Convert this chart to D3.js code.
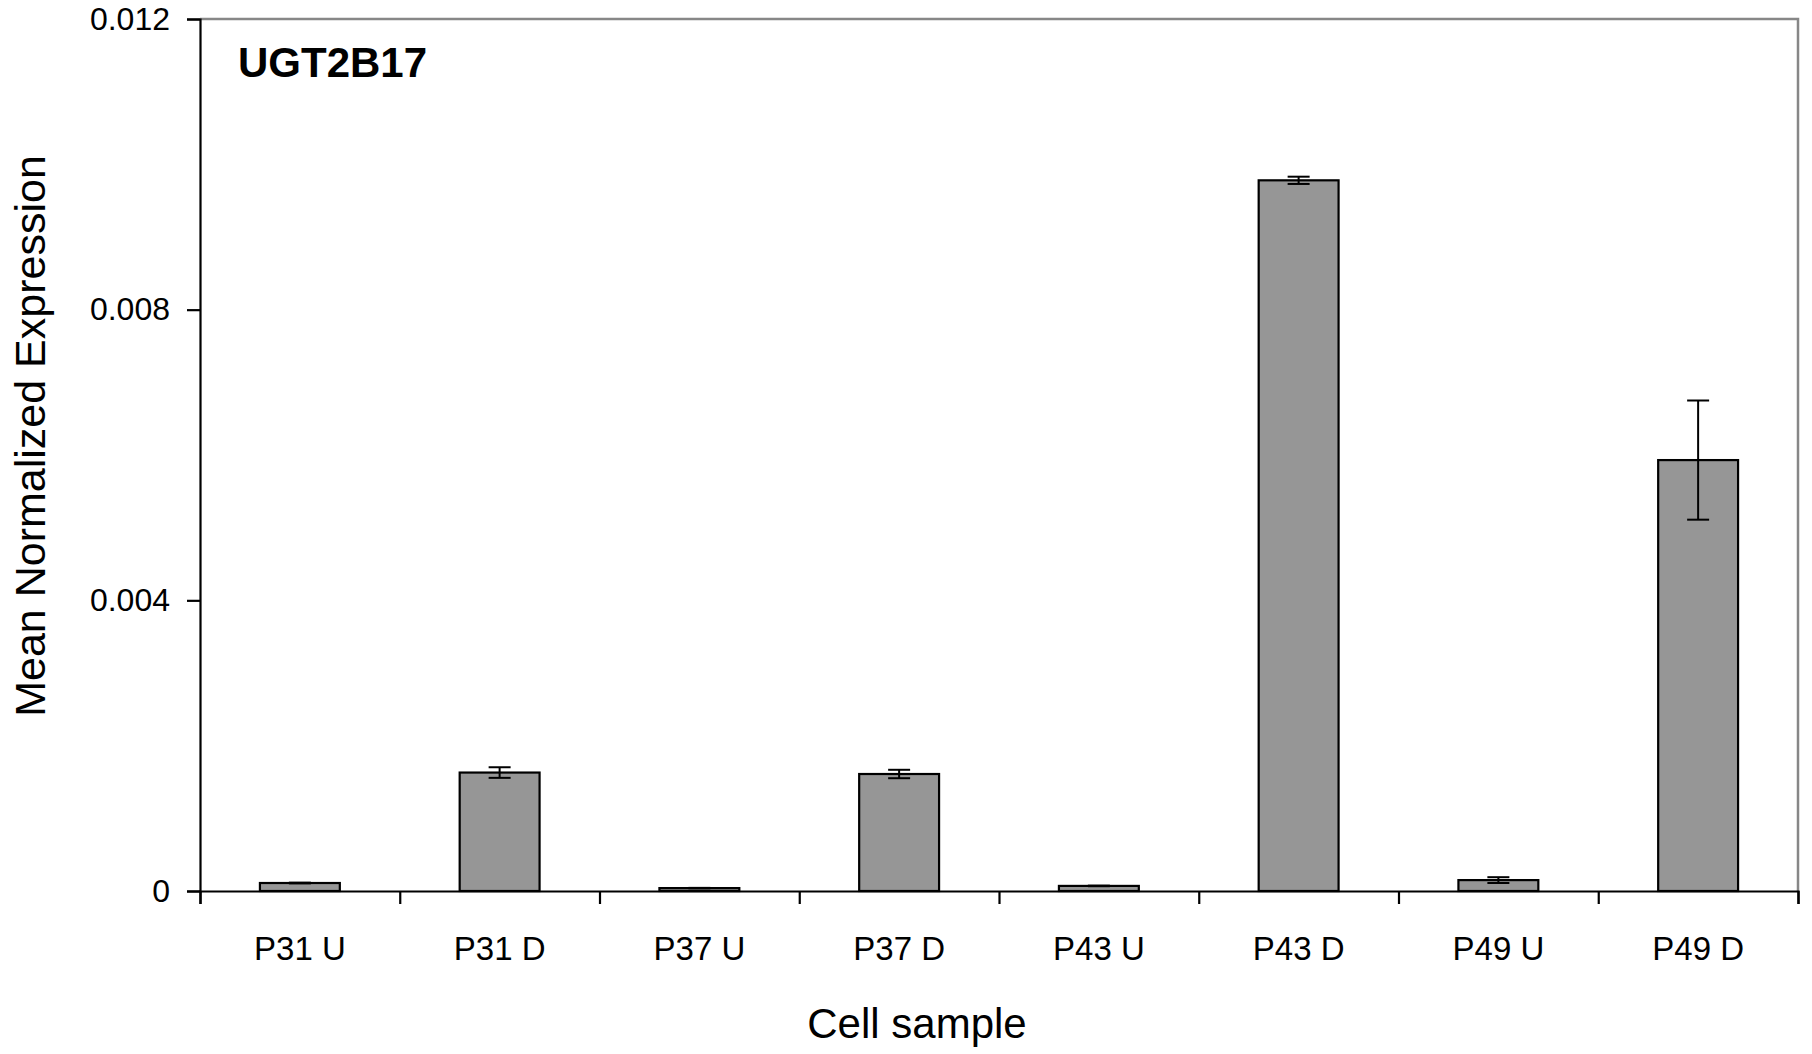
<!DOCTYPE html>
<html>
<head>
<meta charset="utf-8">
<script src="https://cdn.jsdelivr.net/npm/d3@7"></script>
<style>
  body { margin: 0; background: #fff; }
  svg { display: block; font-family: "Liberation Sans", Arial, sans-serif; }
</style>
</head>
<body>
<svg id="chart" width="1812" height="1054"></svg>
<script>
const samples = ["P31 U", "P31 D", "P37 U", "P37 D", "P43 U", "P43 D", "P49 U", "P49 D"];
const means   = [0.00011, 0.00163, 0.00004, 0.00161, 0.00007, 0.00978, 0.00015, 0.00593];
const errors  = [0.000005, 0.000073, 0.000003, 0.000058, 0.000004, 0.00005, 0.00004, 0.00082];
const yTicks  = [0, 0.004, 0.008, 0.012];

const svg = d3.select("#chart");
const margin = { top: 19, right: 14, bottom: 163, left: 200 };
const W = 1812 - margin.left - margin.right;
const H = 1054 - margin.top - margin.bottom;

const g = svg.append("g").attr("transform", `translate(${margin.left},${margin.top})`);

const x = d3.scaleBand().domain(samples).range([0, W]).paddingInner(0.6).paddingOuter(0.3);
const xEdges = d3.scaleLinear().domain([0, samples.length]).range([0, W]);
const y = d3.scaleLinear().domain([0, 0.012]).range([H, 0]);

// frame top / right in gray
g.append("path")
  .attr("d", `M0,${y(0.012)}H${W}V${H}`)
  .attr("fill", "none").attr("stroke", "#878787").attr("stroke-width", 2.5);

// bars
g.selectAll("rect.bar").data(samples).join("rect")
  .attr("class", "bar")
  .attr("x", d => x(d))
  .attr("width", x.bandwidth())
  .attr("y", (d, i) => y(means[i]))
  .attr("height", (d, i) => y(0) - y(means[i]))
  .attr("fill", "#969696").attr("stroke", "#000").attr("stroke-width", 2.2);

// error bars
const eb = g.selectAll("g.err").data(samples).join("g")
  .attr("class", "err")
  .attr("transform", d => `translate(${x(d) + x.bandwidth() / 2},0)`);
eb.append("line")
  .attr("y1", (d, i) => y(means[i] + errors[i]))
  .attr("y2", (d, i) => y(means[i] - errors[i]))
  .attr("stroke", "#000").attr("stroke-width", 2);
[1, -1].forEach(s => {
  eb.append("line")
    .attr("x1", -11).attr("x2", 11)
    .attr("y1", (d, i) => y(means[i] + s * errors[i]))
    .attr("y2", (d, i) => y(means[i] + s * errors[i]))
    .attr("stroke", "#000").attr("stroke-width", 2);
});

// y axis
const yAxis = g.append("g")
  .call(d3.axisLeft(y).tickValues(yTicks).tickSize(13).tickPadding(17)
    .tickFormat(d => d === 0 ? "0" : d3.format(".3f")(d)));
yAxis.select(".domain").attr("stroke", "#000").attr("stroke-width", 2.2);
yAxis.selectAll(".tick line").attr("stroke", "#000").attr("stroke-width", 2.2);
yAxis.selectAll(".tick text").attr("font-size", 32).attr("fill", "#000")
  .attr("font-family", "Liberation Sans, Arial, sans-serif");

// x axis baseline and boundary ticks
const xAxis = g.append("g").attr("transform", `translate(0,${H})`)
  .call(d3.axisBottom(xEdges).ticks(samples.length).tickSize(13).tickFormat(""));
xAxis.select(".domain").attr("stroke", "#000").attr("stroke-width", 2.2);
xAxis.selectAll(".tick line").attr("stroke", "#000").attr("stroke-width", 2.2);

// category labels
g.selectAll("text.cat").data(samples).join("text")
  .attr("class", "cat")
  .attr("x", d => x(d) + x.bandwidth() / 2)
  .attr("y", H + 69)
  .attr("text-anchor", "middle")
  .attr("font-size", 33)
  .text(d => d);

// axis titles
svg.append("text")
  .attr("x", 917).attr("y", 1038)
  .attr("text-anchor", "middle").attr("font-size", 42)
  .text("Cell sample");
svg.append("text")
  .attr("transform", "translate(45,436) rotate(-90)")
  .attr("text-anchor", "middle").attr("font-size", 43)
  .text("Mean Normalized Expression");

// gene label
svg.append("text")
  .attr("x", 238).attr("y", 77)
  .attr("font-size", 42).attr("font-weight", "bold")
  .text("UGT2B17");
</script>
</body>
</html>
